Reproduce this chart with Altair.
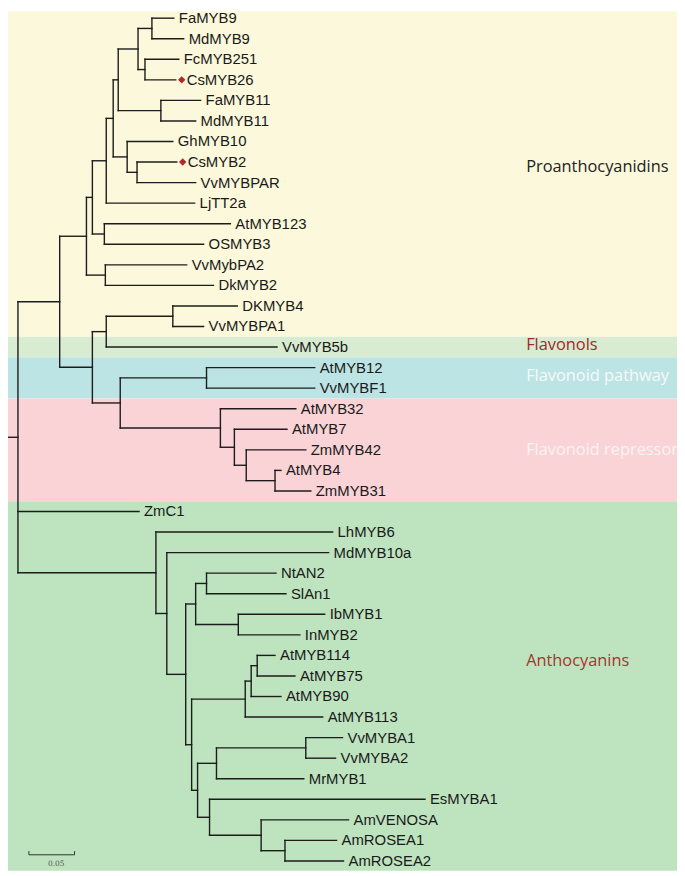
import altair as alt
import pandas as pd

# ---------------- data ----------------
leaf_names = [
    "FaMYB9", "MdMYB9", "FcMYB251", "CsMYB26", "FaMYB11", "MdMYB11",
    "GhMYB10", "CsMYB2", "VvMYBPAR", "LjTT2a", "AtMYB123", "OSMYB3",
    "VvMybPA2", "DkMYB2", "DKMYB4", "VvMYBPA1", "VvMYB5b", "AtMYB12",
    "VvMYBF1", "AtMYB32", "AtMYB7", "ZmMYB42", "AtMYB4", "ZmMYB31",
    "ZmC1", "LhMYB6", "MdMYB10a", "NtAN2", "SlAn1", "IbMYB1", "InMYB2",
    "AtMYB114", "AtMYB75", "AtMYB90", "AtMYB113", "VvMYBA1", "VvMYBA2",
    "MrMYB1", "EsMYBA1", "AmVENOSA", "AmROSEA1", "AmROSEA2",
]
# distance of each leaf tip from the root
leaf_depth = [
    0.1707, 0.1815, 0.1761, 0.1728, 0.2000, 0.1946,
    0.1696, 0.1739, 0.1946, 0.1935, 0.2326, 0.2033,
    0.1848, 0.2141, 0.2402, 0.2033, 0.2837, 0.3250,
    0.3250, 0.3043, 0.2946, 0.3152, 0.2880, 0.3207,
    0.1326, 0.3446, 0.3402, 0.2826, 0.2935, 0.3359, 0.3087,
    0.2815, 0.3033, 0.2880, 0.3337, 0.3554, 0.3478,
    0.3130, 0.4457, 0.3620, 0.3489, 0.3565,
]
marked_leaves = ["CsMYB26", "CsMYB2"]

# internal nodes (children listed before parents)
node_names = [
    "n_fa9", "n_fc", "n_a", "n_fa11", "n_b", "n_cs2", "n_gh", "n_c",
    "n_lj", "n_at123", "n_b2", "n_pa2", "n_c2", "n_dk4", "n_e", "n_f12",
    "n_k", "n_j", "n_i", "n_h", "n_g", "n_f", "n_d",
    "n_nt", "n_ib", "n_o", "n_t", "n_s", "n_q", "n_va", "n_u", "n_x",
    "n_w", "n_v", "n_r", "n_p", "n_n", "n_m", "n_l", "root",
]
node_depth = [
    0.1467, 0.1391, 0.1315, 0.1565, 0.1098, 0.1304, 0.1196, 0.1043,
    0.0967, 0.0946, 0.0815, 0.0957, 0.0750, 0.1696, 0.0967, 0.2065,
    0.2815, 0.2500, 0.2370, 0.2217, 0.1120, 0.0815, 0.0457,
    0.2065, 0.2413, 0.1946, 0.2620, 0.2554, 0.2489, 0.3152, 0.2174, 0.2924,
    0.2663, 0.2098, 0.1967, 0.1902, 0.1837, 0.1630, 0.1511, 0.0,
]
node_children = [
    ["FaMYB9", "MdMYB9"], ["FcMYB251", "CsMYB26"], ["n_fa9", "n_fc"],
    ["FaMYB11", "MdMYB11"], ["n_a", "n_fa11"], ["CsMYB2", "VvMYBPAR"],
    ["GhMYB10", "n_cs2"], ["n_b", "n_gh"], ["n_c", "LjTT2a"],
    ["AtMYB123", "OSMYB3"], ["n_lj", "n_at123"], ["VvMybPA2", "DkMYB2"],
    ["n_b2", "n_pa2"], ["DKMYB4", "VvMYBPA1"], ["n_dk4", "VvMYB5b"],
    ["AtMYB12", "VvMYBF1"], ["AtMYB4", "ZmMYB31"], ["ZmMYB42", "n_k"],
    ["AtMYB7", "n_j"], ["AtMYB32", "n_i"], ["n_f12", "n_h"],
    ["n_e", "n_g"], ["n_c2", "n_f"],
    ["NtAN2", "SlAn1"], ["IbMYB1", "InMYB2"], ["n_nt", "n_ib"],
    ["AtMYB114", "AtMYB75"], ["n_t", "AtMYB90"], ["n_s", "AtMYB113"],
    ["VvMYBA1", "VvMYBA2"], ["n_va", "MrMYB1"], ["AmROSEA1", "AmROSEA2"],
    ["AmVENOSA", "n_x"], ["EsMYBA1", "n_w"], ["n_u", "n_v"],
    ["n_q", "n_r"], ["n_o", "n_p"], ["MdMYB10a", "n_n"],
    ["LhMYB6", "n_m"], ["n_d", "ZmC1", "n_l"],
]
root_stub = 0.012

band_labels = ["Proanthocyanidins", "Flavonols", "Flavonoid pathway",
               "Flavonoid repressor", "Anthocyanins"]
band_edges = [15.5, 16.5, 18.5, 23.5]          # between leaf rows
band_colors = ["#FCF8DB", "#D7ECD1", "#BDE4E4", "#F9D3D6", "#BEE3BF"]
band_label_row = [7.24, 15.9, 17.43, 21.0, 31.29]
band_label_colors = ["#222222", "#9E2A2B", "#F6F9F9", "#F8F4F4", "#AD3131"]

scale_bar_length = 0.05
scale_bar_label = "0.05"

# ---------------- layout ----------------
W, H = 674, 866
Y_MIN, Y_MAX = -0.338, 41.478
X_MIN, X_MAX = -0.0109, 0.7217

# ---------------- build tree segments ----------------
pos = {n: (d, float(i)) for i, (n, d) in enumerate(zip(leaf_names, leaf_depth))}
segs = []
for name, depth, kids in zip(node_names, node_depth, node_children):
    ys_ = [pos[k][1] for k in kids]
    y0, y1 = min(ys_), max(ys_)
    segs.append({"x": depth, "x2": depth, "y": y0, "y2": y1})
    for k in kids:
        kd, ky = pos[k]
        segs.append({"x": depth, "x2": kd, "y": ky, "y2": ky})
    pos[name] = (depth, (y0 + y1) / 2)
rx, ry = pos["root"]
segs.append({"x": rx - root_stub, "x2": rx, "y": ry, "y2": ry})
seg_df = pd.DataFrame(segs)

leaf_df = pd.DataFrame({
    "name": leaf_names,
    "depth": leaf_depth,
    "row": list(range(len(leaf_names))),
    "marked": [n in marked_leaves for n in leaf_names],
})

edges = [Y_MIN] + band_edges + [Y_MAX]
band_df = pd.DataFrame({
    "label": band_labels,
    "y0": edges[:-1],
    "y1": edges[1:],
    "color": band_colors,
    "ly": band_label_row,
    "lcolor": band_label_colors,
})

sb_x0 = 0.012
sb_row = 40.70
sb_df = pd.DataFrame({
    "x": [sb_x0, sb_x0, sb_x0 + scale_bar_length],
    "x2": [sb_x0 + scale_bar_length, sb_x0, sb_x0 + scale_bar_length],
    "y": [sb_row, sb_row - 0.18, sb_row - 0.18],
    "y2": [sb_row, sb_row, sb_row],
})
sb_text_df = pd.DataFrame({"x": [sb_x0 + scale_bar_length * 0.6],
                           "y": [41.14], "t": [scale_bar_label]})

xs = alt.Scale(domain=[X_MIN, X_MAX], nice=False, zero=False)
ys = alt.Scale(domain=[Y_MIN, Y_MAX], nice=False, zero=False, reverse=True)

bands = alt.Chart(band_df).mark_rect().encode(
    x=alt.value(0), x2=alt.value(W),
    y=alt.Y("y0:Q", scale=ys, axis=None), y2="y1:Q",
    color=alt.Color("color:N", scale=None),
)

band_text = alt.Chart(band_df).mark_text(
    align="left", baseline="middle", font="Open Sans", fontSize=16.5
).encode(
    x=alt.value(522),
    y=alt.Y("ly:Q", scale=ys, axis=None),
    text="label:N",
    color=alt.Color("lcolor:N", scale=None),
)

tree = alt.Chart(seg_df).mark_rule(color="#1c1c1c", strokeWidth=1.4, strokeCap="square").encode(
    x=alt.X("x:Q", scale=xs, axis=None), x2="x2:Q",
    y=alt.Y("y:Q", scale=ys, axis=None), y2="y2:Q",
)

diamonds = alt.Chart(leaf_df).transform_filter("datum.marked").mark_point(
    shape="diamond", filled=True, color="#B3282D", size=55, opacity=1, xOffset=6
).encode(
    x=alt.X("depth:Q", scale=xs, axis=None),
    y=alt.Y("row:Q", scale=ys, axis=None),
)

label_plain = alt.Chart(leaf_df).transform_filter("!datum.marked").mark_text(
    align="left", baseline="middle", dx=5, font="Liberation Sans", fontSize=15, color="#1a1a1a"
).encode(
    x=alt.X("depth:Q", scale=xs, axis=None),
    y=alt.Y("row:Q", scale=ys, axis=None),
    text="name:N",
)

label_marked = alt.Chart(leaf_df).transform_filter("datum.marked").mark_text(
    align="left", baseline="middle", dx=11, font="Liberation Sans", fontSize=15, color="#1a1a1a"
).encode(
    x=alt.X("depth:Q", scale=xs, axis=None),
    y=alt.Y("row:Q", scale=ys, axis=None),
    text="name:N",
)

scale_bar = alt.Chart(sb_df).mark_rule(color="#333333", strokeWidth=1).encode(
    x=alt.X("x:Q", scale=xs, axis=None), x2="x2:Q",
    y=alt.Y("y:Q", scale=ys, axis=None), y2="y2:Q",
)
scale_text = alt.Chart(sb_text_df).mark_text(
    align="center", baseline="middle", font="DejaVu Serif", fontSize=7.5, color="#555555"
).encode(
    x=alt.X("x:Q", scale=xs, axis=None),
    y=alt.Y("y:Q", scale=ys, axis=None),
    text="t:N",
)

chart = alt.layer(
    bands, band_text, tree, diamonds, label_plain, label_marked, scale_bar, scale_text
).properties(
    width=W, height=H, padding=0,
    autosize=alt.AutoSizeParams(type="none"),
    background="white",
).configure_view(stroke=None)

chart.save("out.html", embed_options={"renderer": "svg", "actions": False})
